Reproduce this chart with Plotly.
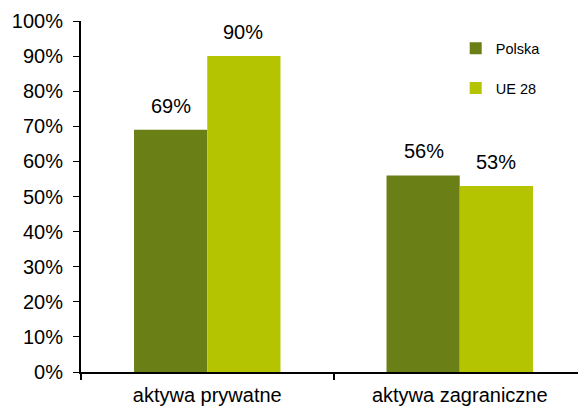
import plotly.graph_objects as go

categories = ["aktywa prywatne", "aktywa zagraniczne"]
polska = [69, 56]
ue28 = [90, 53]
y_ticks = [0, 10, 20, 30, 40, 50, 60, 70, 80, 90, 100]
y_tick_labels = [f"{v}%" for v in y_ticks]

FONT = "Liberation Sans, Arial, sans-serif"
COLORS = {"Polska": "#6b7f17", "UE 28": "#b5c400"}

fig = go.Figure()
for name, values in (("Polska", polska), ("UE 28", ue28)):
    fig.add_trace(
        go.Bar(
            x=categories,
            y=values,
            name=name,
            legendgroup=name,
            offsetgroup=name,
            marker=dict(color=COLORS[name], line=dict(width=0)),
            hoverinfo="x+y+name",
        )
    )

# value labels sit a bit higher above the bars than plotly's outside text
bar_half_px = 36
for values, shift in ((polska, -bar_half_px), (ue28, bar_half_px)):
    for cat, v in zip(categories, values):
        fig.add_annotation(
            x=cat,
            y=v,
            text=f"{v}%",
            showarrow=False,
            yanchor="bottom",
            xshift=shift,
            yshift=11,
            font=dict(size=20, color="#000000"),
        )

# the page body has an 8px margin, so the figure is shrunk by that amount
fig.update_layout(
    width=578,
    height=400,
    margin=dict(l=73, r=0, t=13, b=36),
    paper_bgcolor="white",
    plot_bgcolor="white",
    barmode="group",
    bargap=0.42,
    bargroupgap=0,
    font=dict(family=FONT, size=20, color="#000000"),
    showlegend=True,
    legend=dict(
        x=0.742,
        y=0.968,
        xanchor="left",
        yanchor="top",
        font=dict(size=14.5),
        tracegroupgap=18,
        itemwidth=30,
        bgcolor="rgba(0,0,0,0)",
    ),
    xaxis=dict(
        showline=True,
        linecolor="#000000",
        linewidth=2,
        ticks="outside",
        tickson="boundaries",
        ticklen=6,
        tickwidth=2,
        tickcolor="#000000",
        ticklabelstandoff=4,
        showgrid=False,
        tickfont=dict(size=20),
    ),
    yaxis=dict(
        range=[0, 100],
        tickvals=y_ticks,
        ticktext=y_tick_labels,
        showline=True,
        linecolor="#000000",
        linewidth=2,
        ticks="outside",
        ticklen=6,
        tickwidth=1,
        tickcolor="#000000",
        ticklabelstandoff=6,
        showgrid=False,
        zeroline=False,
        tickfont=dict(size=20),
    ),
)

fig.write_html("out.html")
